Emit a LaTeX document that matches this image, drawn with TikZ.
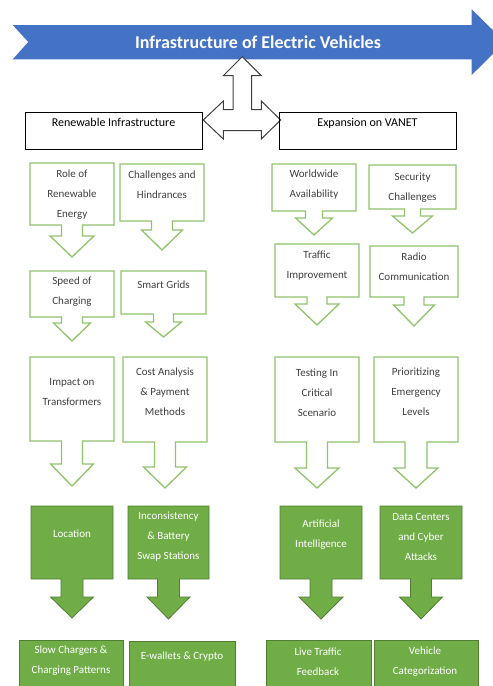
\documentclass[tikz,border=0pt]{standalone}
\usepackage{fontspec}
\setmainfont{Carlito}
\usepackage{xcolor}
\definecolor{eBlue}{HTML}{4472C4}
\definecolor{eGreen}{HTML}{70AD47}
\definecolor{eGreenLine}{HTML}{8FC46B}
\definecolor{eGreenDark}{HTML}{507E32}
\definecolor{eGray}{HTML}{404040}
\usepackage{tikz}
\usetikzlibrary{calc}

% box with a down arrow below it: style, x1, y1, x2, y2, stem end, tip, stem half, head half
\newcommand{\callout}[9]{%
  \pgfmathsetmacro{\cMid}{(#2+#4)/2}%
  \draw[#1] (#2,#3) -- (#4,#3) -- (#4,#5) -- (\cMid+#8,#5) -- (\cMid+#8,#6)
    -- (\cMid+#9,#6) -- (\cMid,#7) -- (\cMid-#9,#6) -- (\cMid-#8,#6)
    -- (\cMid-#8,#5) -- (#2,#5) -- cycle;}

\tikzset{
  hollowcall/.style={draw=eGreenLine, line width=1.3pt, fill=white, line join=miter},
  fillcall/.style={draw=eGreenDark, line width=0.8pt, fill=eGreen},
  calltext/.style={font=\fontsize{11}{20}\selectfont, text=eGray, align=center, inner sep=0pt},
  filltext/.style={calltext, text=white},
  topbox/.style={draw=black, line width=0.8pt, font=\fontsize{12}{14}\selectfont,
    text height=11pt, text depth=20pt, inner sep=3pt, minimum width=177pt},
}

\begin{document}
\begin{tikzpicture}[x=1pt, y=-1pt]
\useasboundingbox (0,0) rectangle (493,686);
\clip (0,0) rectangle (493,686);

% title arrow
\fill[eBlue] (12.7,25) -- (471.7,25) -- (471.7,9.3) -- (505,42) -- (471.7,75)
  -- (471.7,59.3) -- (12.7,59.3) -- (28.3,42) -- cycle;
\node[font=\fontsize{18}{20}\selectfont\bfseries, text=white] (title) at (258,42)
  {Infrastructure of Electric Vehicles};

% three way arrow
\draw[draw=eGray, line width=1pt, fill=white] (242.3,56.7) -- (261.3,75.7) -- (251.5,75.7)
  -- (251.5,109.5) -- (261.3,109.5) -- (261.3,101) -- (280.7,120) -- (261.3,139)
  -- (261.3,130.5) -- (223.3,130.5) -- (223.3,139) -- (203.3,120) -- (223.3,101)
  -- (223.3,109.5) -- (233.1,109.5) -- (233.1,75.7) -- (223.3,75.7) -- cycle;

\node[topbox] (renew) at (113.5,130.5) {Renewable Infrastructure};
\node[topbox] (vanet) at (367.5,130.5) {Expansion on VANET};

% outlined callouts
\callout{hollowcall}{30}{163}{114}{225}{236}{257}{10.5}{22}
\callout{hollowcall}{120}{164}{204}{221}{230}{250}{10.5}{20.5}
\callout{hollowcall}{30}{271}{114}{317}{323}{341}{10.5}{18.5}
\callout{hollowcall}{121}{271}{206}{314}{322}{337}{10}{18}
\callout{hollowcall}{272}{164}{356}{211}{218}{235}{8.5}{18.5}
\callout{hollowcall}{369}{165}{456}{209}{216}{233}{8}{20}
\callout{hollowcall}{275}{244}{359}{297}{304}{325}{10}{22}
\callout{hollowcall}{370}{246}{458}{297}{305}{326}{10}{20.5}
\callout{hollowcall}{30}{357}{114}{441}{464}{486}{10.5}{21.5}
\callout{hollowcall}{123}{357}{207}{442}{467}{488}{10.5}{21.5}
\callout{hollowcall}{275}{357}{359}{442}{468}{488}{10.5}{22}
\callout{hollowcall}{374}{357}{458}{442}{468}{488}{11}{22}

\node[calltext] (role) at (72,195) {Role of\\Renewable\\Energy};
\node[calltext] (hindr) at (162,185) {Challenges and\\Hindrances};
\node[calltext] (speed) at (72,292) {Speed of\\Charging};
\node[calltext] (grids) at (163.5,285) {Smart Grids};
\node[calltext] (world) at (314,185) {Worldwide\\Availability};
\node[calltext] (secur) at (412.5,188) {Security\\Challenges};
\node[calltext] (traffic) at (317,266) {Traffic\\Improvement};
\node[calltext] (radio) at (414,267) {Radio\\Communication};
\node[calltext] (transf) at (72,392) {Impact on\\Transformers};
\node[calltext] (cost) at (165,392) {Cost Analysis\\\& Payment\\Methods};
\node[calltext] (testing) at (317,393) {Testing In\\Critical\\Scenario};
\node[calltext] (prior) at (416,392) {Prioritizing\\Emergency\\Levels};

% filled callouts
\callout{fillcall}{31}{506}{113}{579}{597}{618}{11}{21.5}
\callout{fillcall}{128}{506}{209}{579}{597}{619}{11}{21.5}
\callout{fillcall}{280}{506}{362}{579}{597}{619}{11}{22}
\callout{fillcall}{380}{506}{462}{579}{597}{619}{10.5}{21.5}

\node[filltext] (location) at (72,534) {Location};
\node[filltext] (swap) at (168.5,537) {Inconsistency\\\& Battery\\Swap Stations};
\node[filltext] (ai) at (321,535) {Artificial\\Intelligence};
\node[filltext] (cyber) at (421,537) {Data Centers\\and Cyber\\Attacks};

% bottom boxes
\draw[fillcall] (19,640) rectangle (123,700);
\draw[fillcall] (129,641) rectangle (235,700);
\draw[fillcall] (266,640) rectangle (371,700);
\draw[fillcall] (374,640) rectangle (478,700);

\node[filltext] (slow) at (71,661) {Slow Chargers \&\\Charging Patterns};
\node[filltext] (ewallet) at (182,657) {E-wallets \& Crypto};
\node[filltext] (live) at (318,662) {Live Traffic\\Feedback};
\node[filltext] (categ) at (425,662) {Vehicle\\Categorization};
\end{tikzpicture}
\end{document}
